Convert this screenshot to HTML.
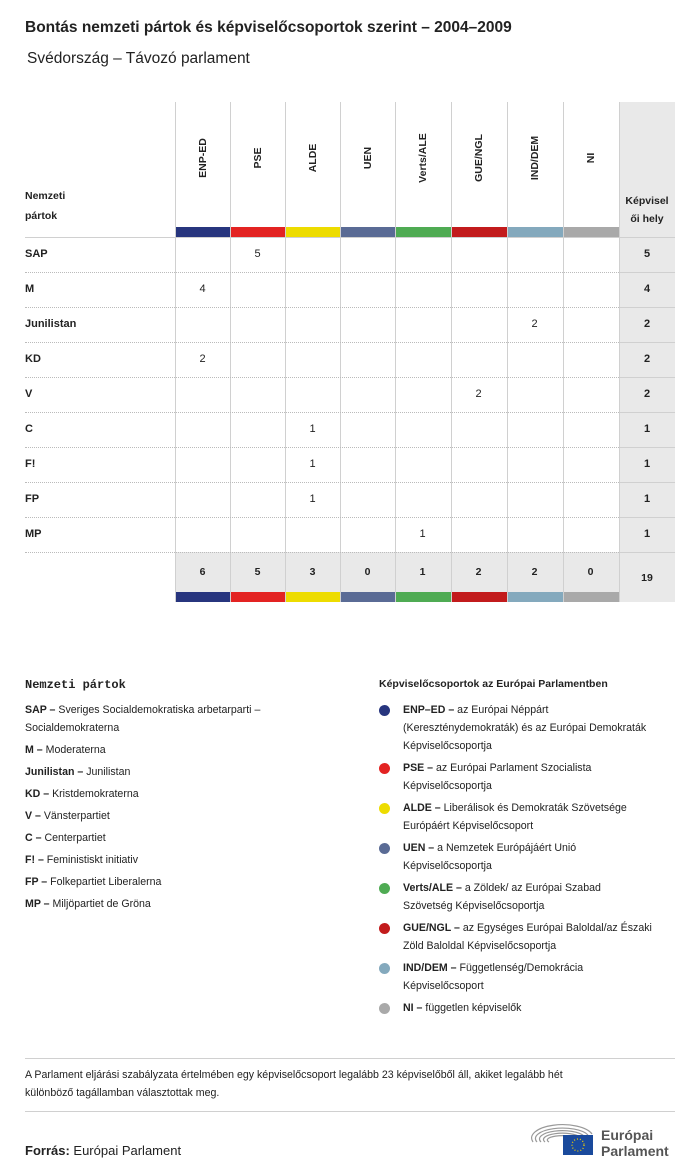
<!DOCTYPE html>
<html><head><meta charset="utf-8"><style>
*{margin:0;padding:0;box-sizing:border-box}
body{width:700px;height:1176px;background:#fff;font-family:"Liberation Sans",sans-serif;color:#222;position:relative;overflow:hidden}
.a{position:absolute}
.vl{position:absolute;width:1px;background:#d0d0d0}
.hd{position:absolute;font-weight:bold;font-size:10.5px;line-height:12px;height:12px;white-space:nowrap;transform-origin:center}
.rl{position:absolute;left:25px;font-size:11px;font-weight:bold}
.c{position:absolute;font-size:11px;text-align:center;width:55px}
.lg{position:absolute;font-size:10.6px;line-height:18px}
.dot{position:absolute;width:11px;height:11px;border-radius:50%}
</style></head><body>
<div class="a" style="left:25px;top:19px;font-size:15.5px;font-weight:bold">Bontás nemzeti pártok és képviselőcsoportok szerint – 2004–2009</div>
<div class="a" style="left:27px;top:50px;font-size:15.5px">Svédország – Távozó parlament</div>

<div class="a" style="left:619px;top:102px;width:56px;height:500px;background:#e9e9e9"></div>
<div class="a" style="left:175px;top:552px;width:444px;height:50px;background:#e9e9e9"></div>

<div class="a" style="left:25px;top:186px;font-size:10.5px;font-weight:bold;line-height:20px">Nemzeti<br>pártok</div>
<div class="a" style="left:619px;top:192px;width:56px;text-align:center;font-size:10.5px;font-weight:bold;line-height:18px">Képvisel<br>ői hely</div>

<div id="grid"></div>
<script>
const xs=[175,230,285,340,395,451,507,563,619];
const names=["ENP-ED","PSE","ALDE","UEN","Verts/ALE","GUE/NGL","IND/DEM","NI"];
const cols=["#27357e","#e32322","#eddc00","#5a6b95","#4fab53","#c21b1c","#84a9bd","#a9a9a9"];
const rows=[["SAP",1,5,5],["M",0,4,4],["Junilistan",6,2,2],["KD",0,2,2],["V",5,2,2],["C",2,1,1],["F!",2,1,1],["FP",2,1,1],["MP",4,1,1]];
const tot=[6,5,3,0,1,2,2,0];
let h="";
for(let i=0;i<9;i++){h+=`<div class="vl" style="left:${xs[i]}px;top:102px;height:500px"></div>`}
for(let i=0;i<8;i++){
 const w=xs[i+1]-xs[i];
 h+=`<div class="a" style="left:${xs[i]+1}px;top:227px;width:${w-1}px;height:10px;background:${cols[i]}"></div>`;
 h+=`<div class="a" style="left:${xs[i]+1}px;top:592px;width:${w-1}px;height:10px;background:${cols[i]}"></div>`;
 h+=`<div class="hd" style="left:${xs[i]+w/2-50}px;top:152px;width:100px;text-align:center;transform:rotate(-90deg)">${names[i]}</div>`;
 h+=`<div class="c" style="left:${xs[i]}px;top:566px;font-weight:bold;font-size:10.5px">${tot[i]}</div>`;
}
h+=`<div class="a" style="left:25px;top:237px;width:650px;height:1px;background:#d0d0d0"></div>`;
rows.forEach((r,k)=>{
 const y=237+k*35;
 if(k>0)h+=`<div class="a" style="left:25px;top:${y}px;width:594px;border-top:1px dotted #bbb"></div><div class="a" style="left:619px;top:${y}px;width:56px;height:1px;background:#d0d0d0"></div>`;
 h+=`<div class="rl" style="top:${y+11}px">${r[0]}</div>`;
 h+=`<div class="c" style="left:${xs[r[1]]}px;top:${y+11}px">${r[2]}</div>`;
 h+=`<div class="c" style="left:619px;top:${y+11}px;font-weight:bold;width:56px">${r[3]}</div>`;
});
h+=`<div class="a" style="left:25px;top:552px;width:594px;border-top:1px dotted #bbb"></div><div class="a" style="left:619px;top:552px;width:56px;height:1px;background:#d0d0d0"></div>`;
h+=`<div class="c" style="left:619px;top:572px;font-weight:bold;width:56px;font-size:10.5px">19</div>`;
document.getElementById("grid").innerHTML=h;
</script>

<div class="a" style="left:25px;top:678px;font-family:'Liberation Mono',monospace;font-weight:bold;font-size:12px">Nemzeti pártok</div>
<div class="lg" style="left:25px;top:701px;width:300px"><b>SAP –</b> Sveriges Socialdemokratiska arbetarparti – Socialdemokraterna</div>
<div class="lg" style="left:25px;top:741px"><b>M –</b> Moderaterna</div>
<div class="lg" style="left:25px;top:763px"><b>Junilistan –</b> Junilistan</div>
<div class="lg" style="left:25px;top:785px"><b>KD –</b> Kristdemokraterna</div>
<div class="lg" style="left:25px;top:807px"><b>V –</b> Vänsterpartiet</div>
<div class="lg" style="left:25px;top:829px"><b>C –</b> Centerpartiet</div>
<div class="lg" style="left:25px;top:851px"><b>F! –</b> Feministiskt initiativ</div>
<div class="lg" style="left:25px;top:873px"><b>FP –</b> Folkepartiet Liberalerna</div>
<div class="lg" style="left:25px;top:895px"><b>MP –</b> Miljöpartiet de Gröna</div>

<div class="a" style="left:379px;top:678px;font-size:10.5px;font-weight:bold">Képviselőcsoportok az Európai Parlamentben</div>
<div class="dot" style="left:379px;top:705px;background:#27357e"></div>
<div class="lg" style="left:403px;top:701px;width:245px"><b>ENP–ED –</b> az Európai Néppárt (Kereszténydemokraták) és az Európai Demokraták Képviselőcsoportja</div>
<div class="dot" style="left:379px;top:763px;background:#e32322"></div>
<div class="lg" style="left:403px;top:759px;width:230px"><b>PSE –</b> az Európai Parlament Szocialista Képviselőcsoportja</div>
<div class="dot" style="left:379px;top:803px;background:#eddc00"></div>
<div class="lg" style="left:403px;top:799px;width:265px"><b>ALDE –</b> Liberálisok és Demokraták Szövetsége Európáért Képviselőcsoport</div>
<div class="dot" style="left:379px;top:843px;background:#5a6b95"></div>
<div class="lg" style="left:403px;top:839px;width:200px"><b>UEN –</b> a Nemzetek Európájáért Unió Képviselőcsoportja</div>
<div class="dot" style="left:379px;top:883px;background:#4fab53"></div>
<div class="lg" style="left:403px;top:879px;width:250px"><b>Verts/ALE –</b> a Zöldek/ az Európai Szabad Szövetség Képviselőcsoportja</div>
<div class="dot" style="left:379px;top:923px;background:#c21b1c"></div>
<div class="lg" style="left:403px;top:919px;width:255px"><b>GUE/NGL –</b> az Egységes Európai Baloldal/az Északi Zöld Baloldal Képviselőcsoportja</div>
<div class="dot" style="left:379px;top:963px;background:#84a9bd"></div>
<div class="lg" style="left:403px;top:959px;width:220px"><b>IND/DEM –</b> Függetlenség/Demokrácia Képviselőcsoport</div>
<div class="dot" style="left:379px;top:1003px;background:#a9a9a9"></div>
<div class="lg" style="left:403px;top:999px"><b>NI –</b> független képviselők</div>

<div class="a" style="left:25px;top:1058px;width:650px;height:1px;background:#d0d0d0"></div>
<div class="lg" style="left:25px;top:1066px;width:570px;font-size:10.6px">A Parlament eljárási szabályzata értelmében egy képviselőcsoport legalább 23 képviselőből áll, akiket legalább hét különböző tagállamban választottak meg.</div>
<div class="a" style="left:25px;top:1111px;width:650px;height:1px;background:#d0d0d0"></div>
<div class="a" style="left:25px;top:1143px;font-size:13px"><b>Forrás:</b> Európai Parlament</div>

<svg class="a" style="left:530px;top:1120px" width="65" height="38">
<g fill="none" stroke="#999" stroke-width="1.2">
<path d="M3 22 A30 13 0 0 1 62 14"/><path d="M7 22 A26 10 0 0 1 58 15"/><path d="M11 22 A22 8 0 0 1 54 16"/><path d="M15 22 A18 6 0 0 1 50 17"/><path d="M19 22 A14 4 0 0 1 46 18"/>
</g>
<rect x="33" y="15" width="30" height="20" fill="#1a4a9c"/>
<circle cx="48" cy="25" r="6" fill="none" stroke="#f5d000" stroke-width="1.3" stroke-dasharray="1 2"/>
</svg>
<div class="a" style="left:601px;top:1127px;font-size:14px;font-weight:bold;color:#555;line-height:16px">Európai<br>Parlament</div>
</body></html>
